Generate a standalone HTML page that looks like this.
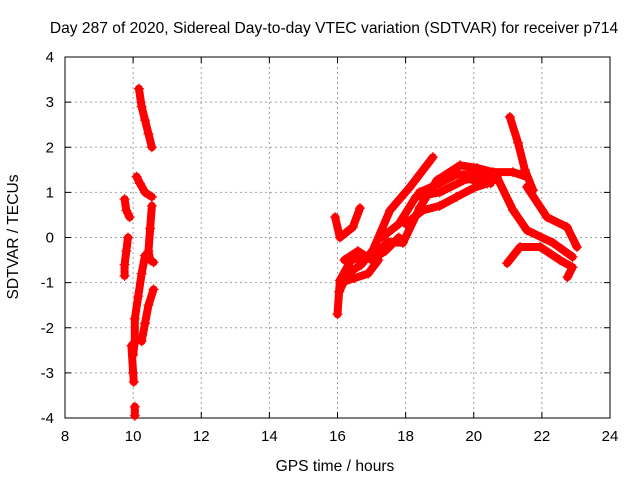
<!DOCTYPE html>
<html><head><meta charset="utf-8"><style>
body{margin:0;background:#fff}
svg{display:block;font-family:"Liberation Sans",sans-serif}
</style></head><body>
<svg id="chart" width="640" height="480" viewBox="0 0 640 480" xmlns="http://www.w3.org/2000/svg">
<text x="334" y="33" font-size="15.6" text-anchor="middle">Day 287 of 2020, Sidereal Day-to-day VTEC variation (SDTVAR) for receiver p714</text>
<text x="335" y="471" font-size="15.6" text-anchor="middle">GPS time / hours</text>
<text x="18" y="237" font-size="15.6" text-anchor="middle" transform="rotate(-90 18 237)">SDTVAR / TECUs</text>
<g id="grid"></g>
<g id="axes"></g>
<g id="series"></g>
</svg>
<script>
const xTicks=[8,10,12,14,16,18,20,22,24];
const yTicks=[-4,-3,-2,-1,0,1,2,3,4];
const track1=[[10.17,3.3],[10.25,2.9],[10.35,2.6],[10.45,2.3],[10.55,2.0]];
const track2=[[10.1,1.35],[10.2,1.2],[10.35,1.0],[10.55,0.9]];
const track3=[[10.55,0.7],[10.5,0.2],[10.45,-0.3],[10.5,-0.5],[10.6,-0.55]];
const track4=[[10.6,-1.15],[10.45,-1.5],[10.35,-1.9],[10.25,-2.3]];
const track5=[[10.35,-0.4],[10.25,-0.8],[10.15,-1.3],[10.05,-1.8],[10.05,-2.3],[10.0,-2.6]];
const track6=[[9.75,0.85],[9.8,0.6],[9.9,0.45]];
const track7=[[9.85,0.0],[9.8,-0.3],[9.75,-0.6],[9.75,-0.85]];
const track8=[[9.95,-2.4],[10.0,-3.0],[10.02,-3.2]];
const track8b=[[10.05,-3.75],[10.05,-3.95]];
const track9=[[16.0,-1.7],[16.07,-0.95],[16.4,-0.5],[17.0,-0.4],[17.5,-0.1],[17.92,-0.12],[18.42,0.67],[18.92,1.27],[19.6,1.6],[20.1,1.54],[20.57,1.45],[21.15,1.45],[21.56,1.34]];
const track10=[[18.8,1.78],[18.13,1.12],[17.54,0.6],[17.04,-0.28],[16.7,-0.6],[16.3,-0.8],[16.05,-1.2]];
const track11=[[20.68,1.34],[21.15,0.61],[21.56,0.16],[22.33,-0.12],[22.9,-0.43]];
const track12=[[21.56,1.12],[22.15,0.45],[22.74,0.23],[23.03,-0.21]];
const track13=[[21.06,2.67],[21.3,2.1],[21.5,1.5],[21.74,1.05]];
const track14=[[20.98,-0.57],[21.36,-0.21],[21.95,-0.21],[22.53,-0.5],[22.9,-0.66],[22.75,-0.88]];
const track15=[[15.93,0.45],[16.07,0.0],[16.45,0.23],[16.66,0.65]];
const track16=[[17.3,0.0],[17.8,0.3],[18.3,0.9],[19.0,1.0],[19.8,1.3],[20.5,1.2]];
const track17=[[18.0,0.3],[18.5,0.6],[19.0,0.7],[19.5,0.9],[20.0,1.1],[20.4,1.2]];
const track18=[[18.4,1.0],[19.0,1.2],[19.5,1.4],[20.0,1.4],[20.6,1.3]];
const track19=[[16.2,-0.5],[16.6,-0.3],[17.0,-0.5],[17.4,-0.3],[17.8,0.0]];
const track20=[[16.1,-1.0],[16.5,-0.9],[16.9,-0.8],[17.2,-0.5]];
const tracks=[track1,track2,track3,track4,track5,track6,track7,track8,track8b,track9,track10,track11,track12,track13,track14,track15,track16,track17,track18,track19,track20];
const L=65,R=610,T=57,B=418;
const xs=v=>L+(v-8)/16*(R-L);
const ys=v=>B-(v+4)/8*(B-T);
const NS="http://www.w3.org/2000/svg";
function mk(tag,attrs,parent){const e=document.createElementNS(NS,tag);for(const k in attrs)e.setAttribute(k,attrs[k]);parent.appendChild(e);return e;}
const grid=document.getElementById('grid'),axes=document.getElementById('axes'),series=document.getElementById('series');
xTicks.forEach(t=>{const x=xs(t);
 if(t>8&&t<24){const g=mk('line',{x1:x,y1:T,x2:x,y2:B,stroke:'#a0a0a0','stroke-dasharray':'2,3'},grid);
 
 }
 mk('line',{x1:x,y1:B,x2:x,y2:B-6,stroke:'#000'},axes);
 mk('line',{x1:x,y1:T,x2:x,y2:T+6,stroke:'#000'},axes);
 const l=mk('text',{x:x,y:B+23,'font-size':15,'text-anchor':'middle'},axes);l.textContent=t;
 
 });
yTicks.forEach(t=>{const y=ys(t);
 if(t>-4&&t<4){const g=mk('line',{x1:L,y1:y,x2:R,y2:y,stroke:'#a0a0a0','stroke-dasharray':'2,3'},grid);
 
 }
 mk('line',{x1:L,y1:y,x2:L+6,y2:y,stroke:'#000'},axes);
 mk('line',{x1:R,y1:y,x2:R-6,y2:y,stroke:'#000'},axes);
 const l=mk('text',{x:L-11,y:y+5,'font-size':15,'text-anchor':'end'},axes);l.textContent=t;
 
 });
const bd=mk('rect',{x:L,y:T,width:R-L,height:B-T,fill:'none',stroke:'#000'},axes);


tracks.forEach((tr,i)=>{
 const p=mk('polyline',{points:tr.map(d=>xs(d[0])+','+ys(d[1])).join(' '),fill:'none',stroke:'#f00','stroke-width':8,'stroke-linejoin':'round','stroke-linecap':'round'},series);
 
 
 tr.forEach(d=>{const x=xs(d[0]),y=ys(d[1]);
  const m=mk('path',{d:`M${x-5},${y}h10M${x},${y-5}v10`,stroke:'#f00','stroke-width':1.2},series);
  
  });
});
</script>
</body></html>
